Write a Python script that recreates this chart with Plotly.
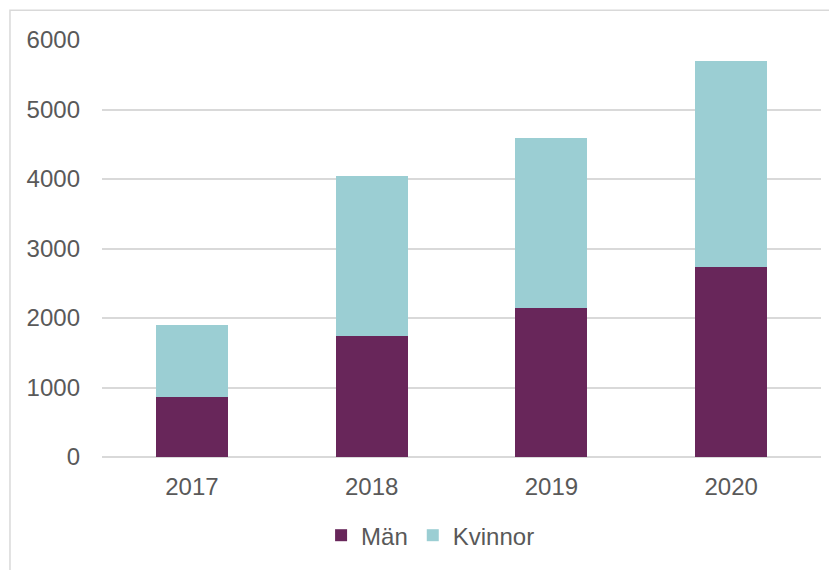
import plotly.graph_objects as go

years = ["2017", "2018", "2019", "2020"]
man = [870, 1745, 2150, 2730]
kvinnor = [1035, 2300, 2440, 2970]
y_ticks = [0, 1000, 2000, 3000, 4000, 5000, 6000]

fig = go.Figure()
fig.add_trace(go.Bar(x=years, y=man, name="Män", marker=dict(color="#68265A", line=dict(width=0))))
fig.add_trace(go.Bar(x=years, y=kvinnor, name="Kvinnor", marker=dict(color="#9BCED3", line=dict(width=0))))

fig.update_layout(
    barmode="stack",
    bargap=0.6,
    width=829, height=562,
    margin=dict(l=94, r=16, t=32, b=111),
    paper_bgcolor="white", plot_bgcolor="white",
    font=dict(family="Liberation Sans, Arial, sans-serif", size=24, color="#595959"),
    legend=dict(orientation="h", x=0.457, xanchor="center", y=-0.1885, yanchor="middle",
                font=dict(size=24, color="#595959"), itemwidth=30, traceorder="normal"),
    showlegend=True,
)
fig.update_yaxes(range=[0, 6000], tickvals=y_ticks, showgrid=True, gridcolor="#D9D9D9", gridwidth=1.5,
                 zeroline=True, zerolinecolor="#D9D9D9", zerolinewidth=1.5,
                 ticks="", ticklabelstandoff=21, showline=False)
fig.update_xaxes(showgrid=False, ticks="", showline=False, ticklabelstandoff=13)

fig.add_shape(type="rect", xref="paper", yref="paper", x0=-0.128, x1=2, y0=-0.5, y1=1.0716,
              line=dict(color="#D9D9D9", width=1.5), fillcolor="rgba(0,0,0,0)", layer="below")

fig.write_html("out.html")
